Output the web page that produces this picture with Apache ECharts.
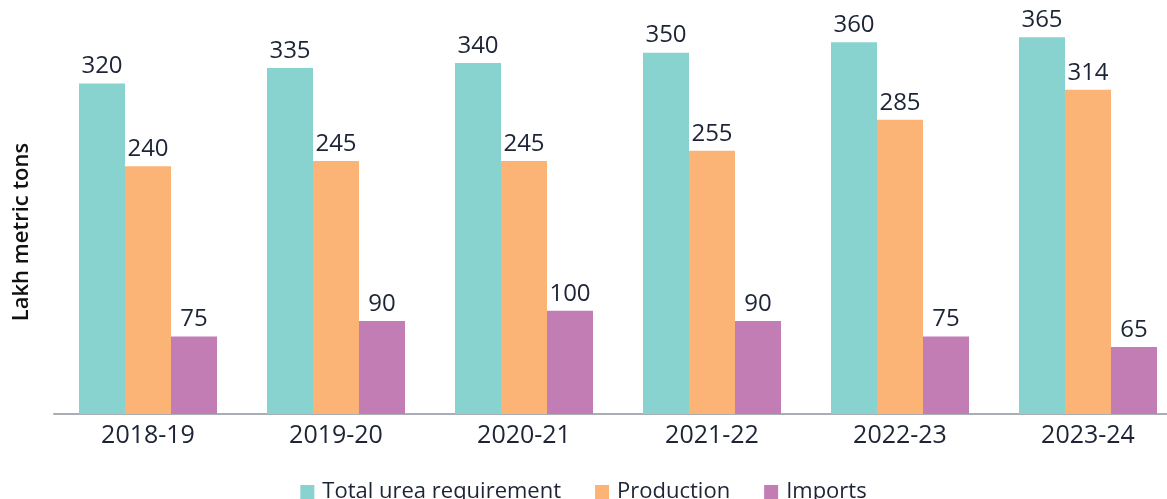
<!DOCTYPE html>
<html>
<head>
<meta charset="utf-8">
<script src="https://cdn.jsdelivr.net/npm/echarts@6/dist/echarts.min.js"></script>
<style>
  html, body { margin: 0; padding: 0; background: #fff; }
  #chart { width: 1167px; height: 499px; }
</style>
</head>
<body>
<div id="chart"></div>
<script>
// Urea demand, domestic output and imports by fiscal year (lakh metric tons)
const years = ['2018-19', '2019-20', '2020-21', '2021-22', '2022-23', '2023-24'];
const totalRequirement = [320, 335, 340, 350, 360, 365];
const production = [240, 245, 245, 255, 285, 314];
const imports = [75, 90, 100, 90, 75, 65];

const seriesNames = ['Total urea requirement', 'Production', 'Imports'];
const seriesColors = ['#88D2CF', '#FBB476', '#C27DB4'];
const textColor = '#1C2436';
const fontFamily = '"Open Sans", "Noto Sans", sans-serif';

const chart = echarts.init(document.getElementById('chart'), null, { renderer: 'canvas' });

function barSeries(name, data, color) {
  return {
    name: name,
    type: 'bar',
    data: data,
    barWidth: 46,
    barGap: '0%',
    itemStyle: { color: color },
    label: {
      show: true,
      position: 'top',
      distance: 5,
      color: textColor,
      fontSize: 24,
      fontFamily: fontFamily
    }
  };
}

chart.setOption({
  animation: false,
  grid: { left: 54, top: 1, width: 1128, height: 413, containLabel: false, outerBoundsMode: 'none' },
  legend: {
    data: seriesNames,
    top: 476,
    left: 'center',
    itemWidth: 14,
    itemHeight: 14,
    itemGap: 34,
    icon: 'rect',
    textStyle: { color: textColor, fontSize: 22, fontFamily: fontFamily, padding: [0, 0, 0, 3] }
  },
  xAxis: {
    type: 'category',
    data: years,
    axisLine: { show: true, lineStyle: { color: '#A9AEB5', width: 2 } },
    axisTick: { show: false },
    axisLabel: { color: textColor, fontSize: 25, fontFamily: fontFamily, margin: 9 }
  },
  yAxis: {
    type: 'value',
    min: 0,
    max: 400,
    axisLine: { show: false },
    axisTick: { show: false },
    axisLabel: { show: false },
    splitLine: { show: false }
  },
  graphic: [{
    type: 'text',
    x: 22,
    y: 232,
    rotation: Math.PI / 2,
    style: {
      text: 'Lakh metric tons',
      fill: '#111',
      font: '600 22px ' + fontFamily,
      textAlign: 'center',
      textVerticalAlign: 'middle'
    }
  }],
  series: [
    barSeries(seriesNames[0], totalRequirement, seriesColors[0]),
    barSeries(seriesNames[1], production, seriesColors[1]),
    barSeries(seriesNames[2], imports, seriesColors[2])
  ]
});
</script>
</body>
</html>
